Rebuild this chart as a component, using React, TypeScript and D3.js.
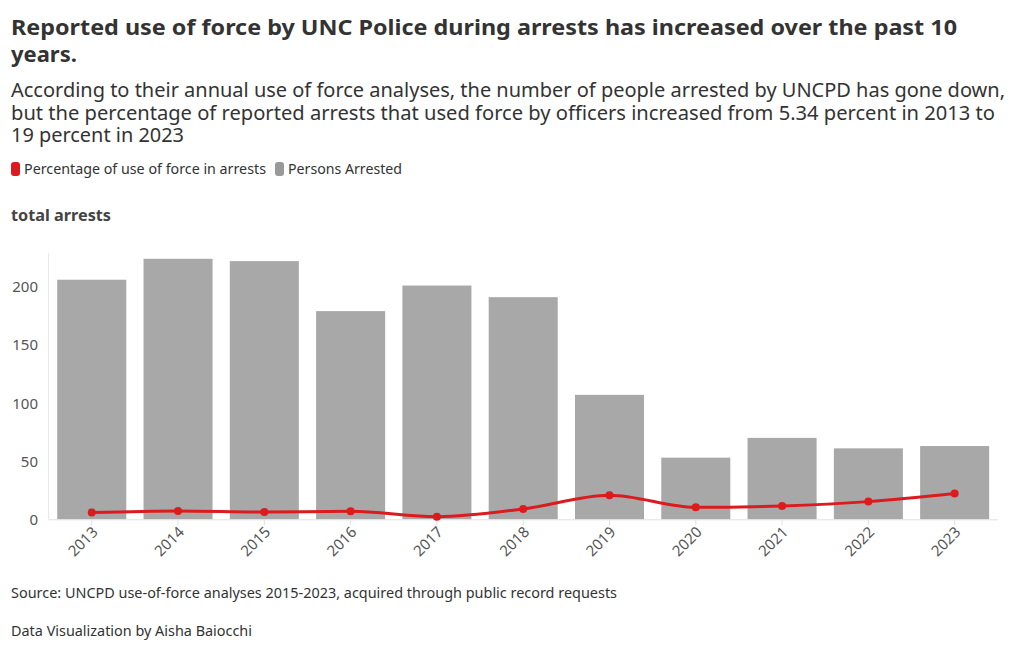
import React from "react";
import * as d3 from "d3";

const years = ["2013", "2014", "2015", "2016", "2017", "2018", "2019", "2020", "2021", "2022", "2023"];
const personsArrested = [206, 224, 222, 179, 201, 191, 107, 53, 70, 61, 63];
const forcePct = [5.8, 7.2, 6.3, 6.9, 2.3, 8.9, 20.7, 10.3, 11.5, 15.2, 22.1];
const yTicks = [0, 50, 100, 150, 200];

const titleLines = [
  "Reported use of force by UNC Police during arrests has increased over the past 10",
  "years.",
];
const subtitleLines = [
  "According to their annual use of force analyses, the number of people arrested by UNCPD has gone down,",
  "but the percentage of reported arrests that used force by officers increased from 5.34 percent in 2013 to",
  "19 percent in 2023",
];
const legendItems = ["Percentage of use of force in arrests", "Persons Arrested"];
const yTitle = "total arrests";
const source = "Source: UNCPD use-of-force analyses 2015-2023, acquired through public record requests";
const credit = "Data Visualization by Aisha Baiocchi";

const FONT = "'Noto Sans', 'Open Sans', sans-serif";
const RED = "#dc1b1f";
const GRAY = "#a8a8a8";

export default function App() {
  const W = 1020, H = 650;
  const x = d3.scaleBand<string>().domain(years).range([48.6, 997.8]).paddingInner(0.2).paddingOuter(0.1);
  const y = d3.scaleLinear().domain([0, 200]).range([519.3, 286.7]);
  const line = d3
    .line<number>()
    .x((_, i) => (x(years[i]) as number) + x.bandwidth() / 2)
    .y((d) => y(d))
    .curve(d3.curveMonotoneX);

  const titleWidths = [946, null];
  const subWidths = [994, 984, 173];

  return (
    <svg width={W} height={H} style={{ position: "absolute", left: 0, top: 0, background: "#fff" }} fontFamily={FONT}>
      {titleLines.map((t, i) => (
        <text key={t} x={11} y={35 + i * 26.5} fontSize={22} fontWeight={700} fill="#333"
          {...(titleWidths[i] ? { textLength: titleWidths[i], lengthAdjust: "spacingAndGlyphs" } : {})}>
          {t}
        </text>
      ))}
      {subtitleLines.map((t, i) => (
        <text key={t} x={11} y={97 + i * 22.5} fontSize={19} fill="#333"
          {...(subWidths[i] ? { textLength: subWidths[i], lengthAdjust: "spacingAndGlyphs" } : {})}>
          {t}
        </text>
      ))}
      {/* legend */}
      <rect x={11} y={162} width={9} height={14} rx={3} fill={RED} />
      <text x={24} y={174} fontSize={14} fill="#333" textLength={242} lengthAdjust="spacingAndGlyphs">{legendItems[0]}</text>
      <rect x={275} y={162} width={9} height={14} rx={3} fill="#999" />
      <text x={288} y={174} fontSize={14} fill="#333" textLength={114} lengthAdjust="spacingAndGlyphs">{legendItems[1]}</text>

      <text x={11} y={221} fontSize={16} fontWeight={700} fill="#444" textLength={100} lengthAdjust="spacingAndGlyphs">{yTitle}</text>

      {/* axes */}
      <line x1={48.6} x2={48.6} y1={253} y2={519.3} stroke="#e6e6e6" strokeWidth={1} />
      {yTicks.map((t) => (
        <text key={t} x={38} y={y(t) + 5.5} fontSize={15} fill="#555" textAnchor="end">{t}</text>
      ))}

      {personsArrested.map((v, i) => (
        <rect key={years[i]} x={x(years[i])} y={y(v)} width={x.bandwidth()} height={y(0) - y(v)} fill={GRAY} />
      ))}
      <line x1={48.6} x2={997.8} y1={519.8} y2={519.8} stroke="#e0e0e0" strokeWidth={1} />

      {years.map((yr) => {
        const cx = (x(yr) as number) + x.bandwidth() / 2;
        return (
          <g key={yr}>
            <line x1={cx} x2={cx} y1={520} y2={525} stroke="#e0e0e0" />
            <text transform={`translate(${cx + 7},${533}) rotate(-45)`} fontSize={15} fill="#555" textAnchor="end">{yr}</text>
          </g>
        );
      })}

      <path d={line(forcePct) || ""} fill="none" stroke={RED} strokeWidth={3} />
      {forcePct.map((v, i) => (
        <circle key={years[i]} cx={(x(years[i]) as number) + x.bandwidth() / 2} cy={y(v)} r={4} fill={RED} />
      ))}

      <text x={11} y={598} fontSize={14} fill="#333" textLength={606} lengthAdjust="spacingAndGlyphs">{source}</text>
      <text x={11} y={636} fontSize={14} fill="#333" textLength={241} lengthAdjust="spacingAndGlyphs">{credit}</text>
    </svg>
  );
}
